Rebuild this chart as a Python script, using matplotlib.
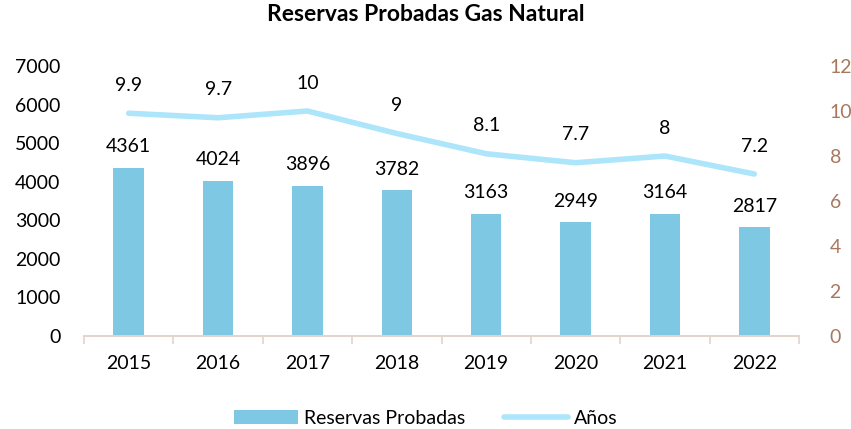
import matplotlib
matplotlib.use("Agg")
import matplotlib.pyplot as plt
import numpy as np

years = ["2015", "2016", "2017", "2018", "2019", "2020", "2021", "2022"]
reservas = [4361, 4024, 3896, 3782, 3163, 2949, 3164, 2817]
anios = [9.9, 9.7, 10, 9, 8.1, 7.7, 8, 7.2]
anios_labels = ["9.9", "9.7", "10", "9", "8.1", "7.7", "8", "7.2"]

plt.rcParams["font.family"] = ["Lato", "DejaVu Sans"]

bar_color = "#7EC8E3"
line_color = "#ADE5FA"
right_color = "#A8785E"
axis_color = "#E2D4CC"
fs = 14

fig = plt.figure(figsize=(8.51, 4.29), dpi=100)
ax = fig.add_axes([84 / 851, 1 - 336 / 429, (799 - 84) / 851, 270 / 429])
ax2 = ax.twinx()

x = np.arange(len(years))
ax.bar(x, reservas, width=0.34, color=bar_color, label="Reservas Probadas", zorder=2)
for xi, v in zip(x, reservas):
    ax.annotate(str(v), (xi, v), xytext=(0, 9), textcoords="offset points",
                ha="center", va="bottom", fontsize=fs)

ax2.plot(x, anios, color=line_color, lw=4, solid_capstyle="round", label="Años", zorder=3)
for xi, v, lab in zip(x, anios, anios_labels):
    ax2.annotate(lab, (xi, v), xytext=(0, 14), textcoords="offset points",
                 ha="center", va="bottom", fontsize=fs)

ax.set_xlim(-0.5, len(years) - 0.5)
ax.set_ylim(0, 7000)
ax.set_yticks(range(0, 7001, 1000))
ax2.set_ylim(0, 12)
ax2.set_yticks(range(0, 13, 2))

ax.set_xticks(np.arange(-0.5, len(years), 1), minor=True)
ax.set_xticks(x)
ax.set_xticklabels(years)
ax.tick_params(axis="x", which="major", length=0, pad=14, labelsize=fs)
ax.tick_params(axis="x", which="minor", length=6, color=axis_color, width=1.2)
ax.tick_params(axis="y", length=0, labelsize=fs, pad=17)
ax2.tick_params(axis="y", length=0, labelsize=fs, labelcolor=right_color, pad=22)

for a in (ax, ax2):
    for s in ("top", "left", "right"):
        a.spines[s].set_visible(False)
    a.spines["bottom"].set_color(axis_color)
    a.spines["bottom"].set_linewidth(1.2)

fig.suptitle("Reservas Probadas Gas Natural", fontsize=16.5, fontweight="bold", y=0.99)

h1, l1 = ax.get_legend_handles_labels()
h2, l2 = ax2.get_legend_handles_labels()
fig.legend(h1 + h2, l1 + l2, loc="center", bbox_to_anchor=(0.5, 1 - 418 / 429),
           ncol=2, frameon=False, fontsize=fs, handlelength=3.3, columnspacing=2.0,
           handletextpad=0.3)

fig.savefig("out.png", dpi=100)
